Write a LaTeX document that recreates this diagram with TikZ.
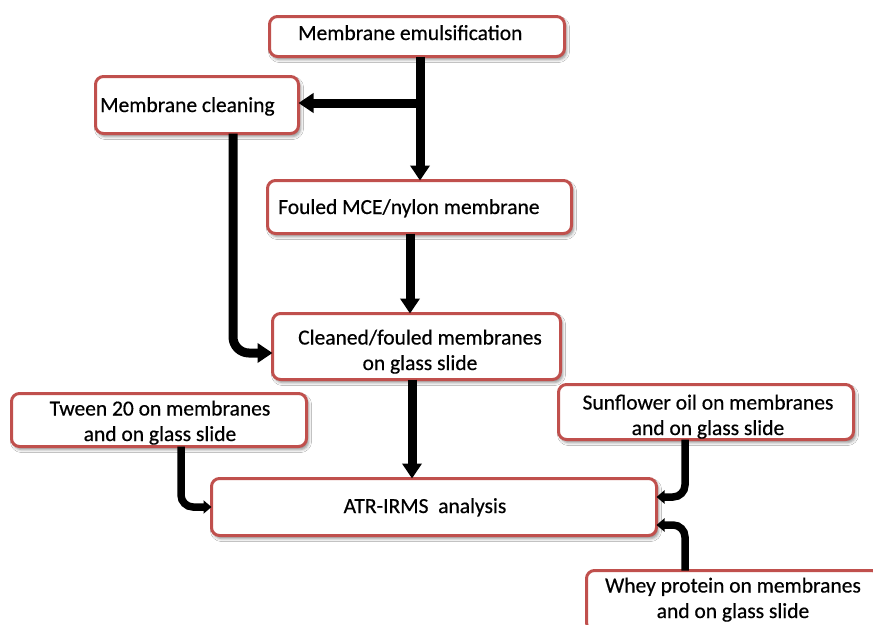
\documentclass[tikz,border=0pt]{standalone}
\usepackage{fontspec}
\setmainfont{Carlito}[FakeBold=0.5]
\usetikzlibrary{arrows.meta,shadows.blur}
\definecolor{boxred}{RGB}{192,80,77}
\begin{document}
\begin{tikzpicture}[x=1pt,y=-1pt,
  box/.style={draw=boxred, line width=3pt, fill=white, rounded corners=8pt,
    blur shadow={shadow xshift=2pt, shadow yshift=-3pt, shadow blur radius=3pt, shadow opacity=45},
    inner sep=0pt, outer sep=0pt},
  txt/.style={inner sep=0pt, font=\fontsize{21.5}{25.5}\selectfont, align=center},
  mainarrow/.style={line width=9pt, -{Triangle[width=19pt,length=15pt]}},
  sidearrow/.style={line width=7.5pt, rounded corners=12pt, -{Triangle[width=13pt,length=8pt]}}]
\useasboundingbox (0,0) rectangle (873,624);
\clip (0,0) rectangle (873,624);
\fill[white] (0,0) rectangle (873,624);

% boxes
\node[box, minimum width=295pt, minimum height=40pt] (emu) at (417,36.5) {};
\node[box, minimum width=203pt, minimum height=57pt] (clean) at (197,105) {};
\node[box, minimum width=304pt, minimum height=53pt] (fouled) at (419.5,207) {};
\node[box, minimum width=288pt, minimum height=66pt] (cleaned) at (416.5,346.5) {};
\node[box, minimum width=295pt, minimum height=53pt] (tween) at (159,420) {};
\node[box, minimum width=295pt, minimum height=55pt] (sun) at (706,412) {};
\node[box, minimum width=445pt, minimum height=57pt] (atr) at (434,507) {};
\node[box, minimum width=293pt, minimum height=60pt] (whey) at (733,600.5) {};

% texts
\node[txt, anchor=base west] (emuT) at (298,40) {Membrane emulsification};
\node[txt, anchor=base west] (cleanT) at (100,112) {Membrane cleaning};
\node[txt, anchor=base west] (fouledT) at (278,214) {Fouled MCE/nylon membrane};
\node[txt, anchor=base] (cleanedT) at (420,370) {Cleaned/fouled membranes\\on glass slide};
\node[txt, anchor=base] (tweenT) at (160,441) {Tween 20 on membranes\\and on glass slide};
\node[txt, anchor=base] (sunT) at (708,435) {Sunflower oil on membranes\\and on glass slide};
\node[txt, anchor=base] (atrT) at (425,513) {ATR-IRMS~~analysis};
\node[txt, anchor=base] (wheyT) at (733,618) {Whey protein on membranes\\and on glass slide};

% connectors
\coordinate (emuout) at ([xshift=3pt]emu.south);
\coordinate (br) at (emuout |- 0,103);
\draw[mainarrow] (emuout) -- (emuout |- fouled.north);
\draw[mainarrow] (br) -- (clean.east |- br);
\draw[mainarrow, rounded corners=16pt] ([xshift=36pt]clean.south) |- ([yshift=-6.5pt]cleaned.west);
\draw[mainarrow] ([xshift=-9.5pt]fouled.south) -- ([xshift=-9.5pt]fouled.south |- cleaned.north);
\draw[mainarrow] ([xshift=-4.5pt]cleaned.south) -- ([xshift=-4.5pt]cleaned.south |- atr.north);
\draw[sidearrow] ([xshift=22pt]tween.south) |- (atr.west);
\draw[sidearrow] ([xshift=-21pt]sun.south) |- ([yshift=10pt]atr.east);
\draw[sidearrow] ([xshift=-48pt]whey.north) |- ([yshift=-18pt]atr.east);
\end{tikzpicture}
\end{document}
